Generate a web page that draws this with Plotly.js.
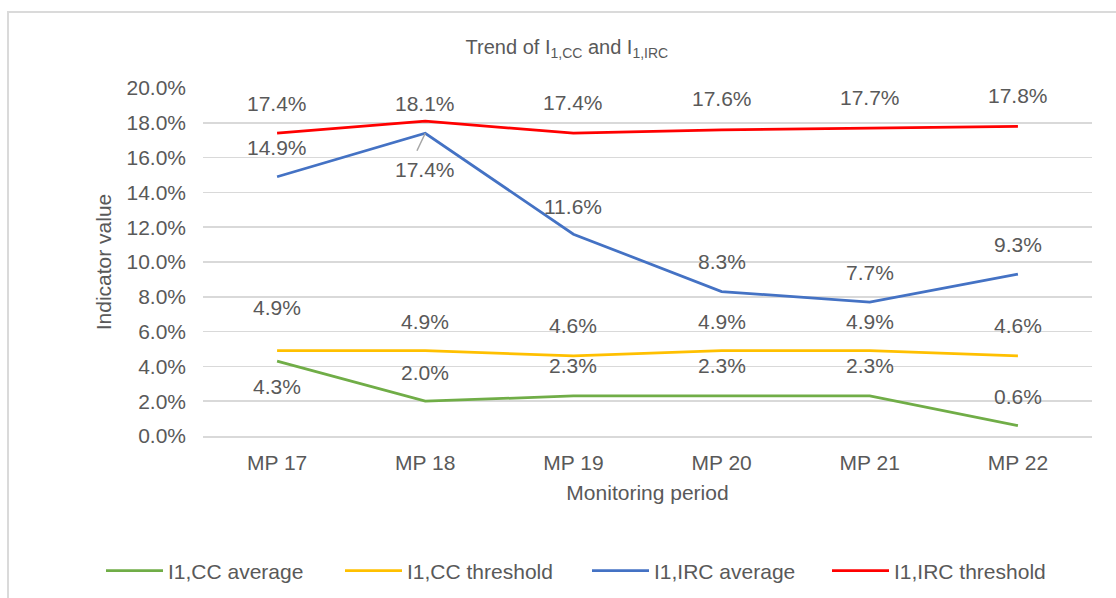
<!DOCTYPE html>
<html><head><meta charset="utf-8">
<script src="https://cdn.plot.ly/plotly-3.0.1.min.js"></script>
<style>
html,body{margin:0;padding:0;background:#fff;}
#wrap{position:relative;width:1116px;height:598px;overflow:hidden;}
#chart{width:1116px;height:598px;}
#frame{position:absolute;left:7px;top:11px;width:1200px;height:700px;border:2px solid #dadada;pointer-events:none;}
</style></head>
<body><div id="wrap"><div id="chart"></div><div id="frame"></div></div>
<script>
const periods = ["MP 17","MP 18","MP 19","MP 20","MP 21","MP 22"];
const ccAverage = [4.3, 2.0, 2.3, 2.3, 2.3, 0.6];
const ccThreshold = [4.9, 4.9, 4.6, 4.9, 4.9, 4.6];
const ircAverage = [14.9, 17.4, 11.6, 8.3, 7.7, 9.3];
const ircThreshold = [17.4, 18.1, 17.4, 17.6, 17.7, 17.8];
const yTicks = [0,2,4,6,8,10,12,14,16,18,20];

// label pixel offsets (styling only)
const ccAvgShift = [-25, 29, 30, 30, 30, 29];
const ccThrShift = [43, 29, 30, 29, 29, 30];
const ircAvgShift = [29, -36, 28, 30, 30, 30];
const ircThrShift = [30, 18, 31, 31, 31, 31];
// legend entry left edges in px (styling only)
const legendX = [101, 340, 587, 827];

const txtColor = "#595959";
const FAM = "Liberation Sans, Arial, sans-serif";
const font = {family:FAM, size:21, color:txtColor};

const series = [
  {name:"I1,CC average", y:ccAverage, color:"#70ad47", shift:ccAvgShift},
  {name:"I1,CC threshold", y:ccThreshold, color:"#ffc000", shift:ccThrShift},
  {name:"I1,IRC average", y:ircAverage, color:"#4472c4", shift:ircAvgShift},
  {name:"I1,IRC threshold", y:ircThreshold, color:"#ff0000", shift:ircThrShift}
];
const legendIds = ["legend","legend2","legend3","legend4"];

const traces = series.map((s,k) => ({
  type:"scatter", mode:"lines", name:s.name, x:periods, y:s.y, legend:legendIds[k],
  line:{color:s.color, width:2.75}, hoverinfo:"skip"
}));

const annotations = [];
series.forEach(s => {
  s.y.forEach((v,i) => {
    annotations.push({x:periods[i], y:v, xref:"x", yref:"y", text:v.toFixed(1)+"%",
      showarrow:false, yshift:s.shift[i], font:font});
  });
});
// leader line for IRC average at MP 18
annotations.push({x:periods[1], y:ircAverage[1], xref:"x", yref:"y", text:"",
  showarrow:true, arrowhead:0, arrowwidth:1.5, arrowcolor:"#a6a6a6", ax:-9, ay:19, standoff:0, startstandoff:0});

const layout = {
  width:1116, height:598,
  margin:{l:203, r:24, t:88, b:162},
  paper_bgcolor:"#fff", plot_bgcolor:"#fff",
  font:font,
  title:{text:"Trend of I<sub>1,CC</sub> and I<sub>1,IRC</sub>", x:0.508, xanchor:"center", y:0.922, yanchor:"middle",
    font:{family:FAM, size:20, color:txtColor}},
  xaxis:{type:"category", range:[-0.5,5.5], showgrid:false, showline:true, linecolor:"#d9d9d9", linewidth:1.5,
    ticks:"", tickfont:font, ticklabelstandoff:7, automargin:false,
    title:{text:"Monitoring period", font:font, standoff:12}},
  yaxis:{range:[0,20], tickvals:yTicks, ticktext:yTicks.map(t=>t.toFixed(1)+"%"), showgrid:true, gridcolor:"#d9d9d9", gridwidth:1.5,
    zeroline:false, showline:false, ticks:"", tickfont:font, ticklabelstandoff:16, automargin:false,
    title:{text:"Indicator value", font:font, standoff:9}},
  showlegend:true,
  annotations:annotations
};
legendIds.forEach((id,k) => {
  layout[id] = {orientation:"h", xref:"container", yref:"container", x:legendX[k]/1116, xanchor:"left",
    y:1-571/598, yanchor:"middle", font:font, itemwidth:57, bgcolor:"rgba(0,0,0,0)"};
});
Plotly.newPlot("chart", traces, layout, {displayModeBar:false, staticPlot:true});
</script></body></html>
